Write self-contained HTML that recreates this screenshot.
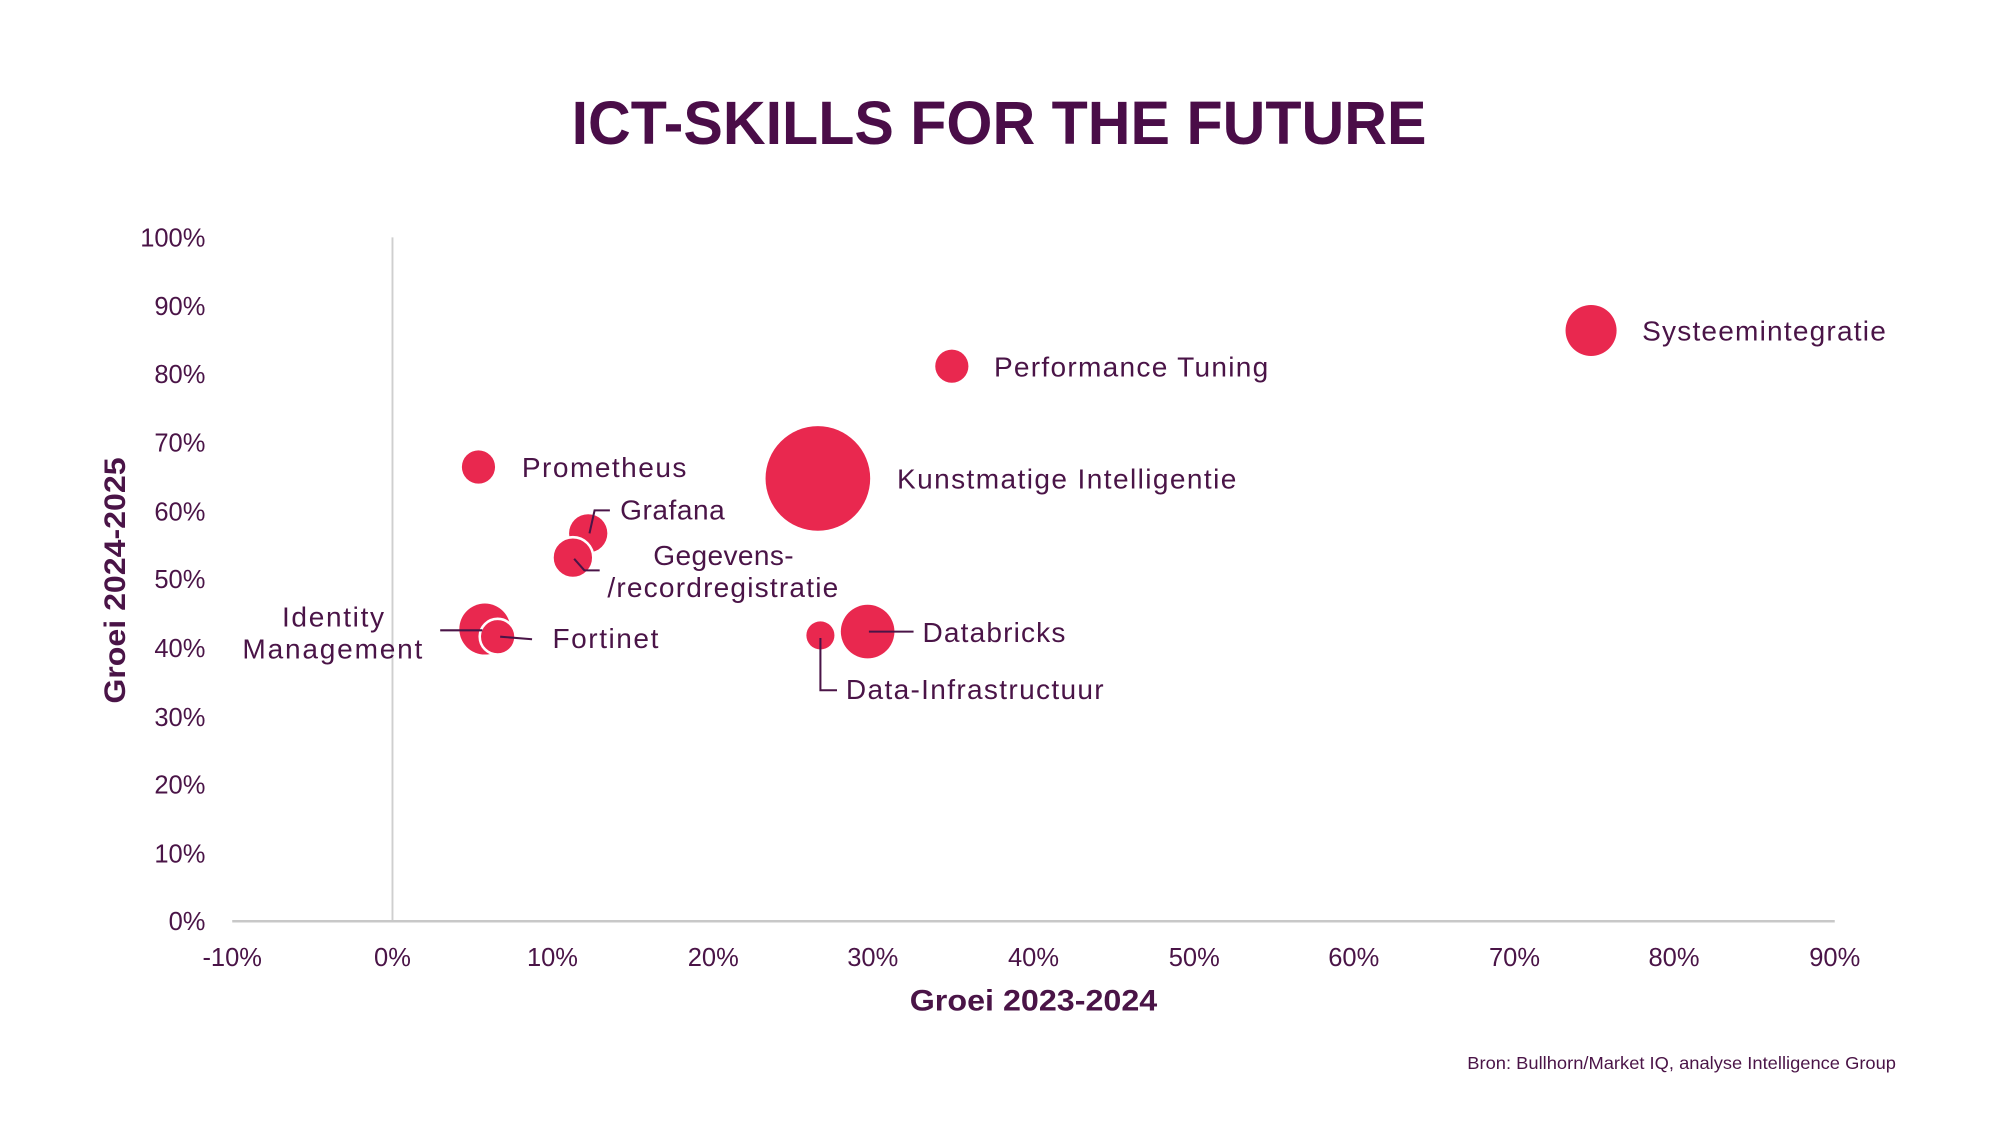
<!DOCTYPE html>
<html><head><meta charset="utf-8"><style>
html,body{margin:0;padding:0;background:#fff;}
svg{display:block;}
text{font-family:"Liberation Sans",sans-serif;fill:#4a1447;}
</style></head><body>
<svg width="2000" height="1125" viewBox="0 0 1567.5 881.7" xmlns="http://www.w3.org/2000/svg">
<rect width="1567.5" height="881.7" fill="#fff"/>
<text x="783" y="113" text-anchor="middle" font-size="48" font-weight="bold" textLength="670" lengthAdjust="spacingAndGlyphs" style="fill:#4a0d48">ICT-SKILLS FOR THE FUTURE</text>
<line x1="307.6" y1="186" x2="307.6" y2="722" stroke="#cfcfcf" stroke-width="1.5"/>
<line x1="182" y1="722" x2="1438" y2="722" stroke="#c8c8c8" stroke-width="2"/>
<g font-size="20" text-anchor="end">
<text x="161" y="193">100%</text><text x="161" y="247">90%</text><text x="161" y="300">80%</text>
<text x="161" y="354">70%</text><text x="161" y="408">60%</text><text x="161" y="461">50%</text>
<text x="161" y="515">40%</text><text x="161" y="569">30%</text><text x="161" y="622">20%</text>
<text x="161" y="676">10%</text><text x="161" y="729">0%</text>
</g>
<g font-size="20" text-anchor="middle">
<text x="182" y="757">-10%</text><text x="307.6" y="757">0%</text><text x="433" y="757">10%</text>
<text x="559" y="757">20%</text><text x="684" y="757">30%</text><text x="810" y="757">40%</text>
<text x="936" y="757">50%</text><text x="1061" y="757">60%</text><text x="1187" y="757">70%</text>
<text x="1312" y="757">80%</text><text x="1438" y="757">90%</text>
</g>
<text x="810" y="792" text-anchor="middle" font-size="23" font-weight="bold" textLength="194" lengthAdjust="spacingAndGlyphs">Groei 2023-2024</text>
<text transform="translate(98,455) rotate(-90)" text-anchor="middle" font-size="23" font-weight="bold" textLength="193" lengthAdjust="spacingAndGlyphs">Groei 2024-2025</text>
<text x="1486" y="838" text-anchor="end" font-size="13.5" textLength="336" lengthAdjust="spacingAndGlyphs">Bron: Bullhorn/Market IQ, analyse Intelligence Group</text>
<g fill="#e9284f">
<circle cx="1247" cy="259" r="20"/>
<circle cx="746" cy="287" r="13"/>
<circle cx="641" cy="375" r="41"/>
<circle cx="375" cy="366" r="13"/>
<circle cx="461" cy="418" r="15"/>
<circle cx="449" cy="437" r="16" stroke="#fff" stroke-width="2"/>
<circle cx="380" cy="493" r="20"/>
<circle cx="390" cy="499" r="14" stroke="#fff" stroke-width="2"/>
<circle cx="643" cy="498" r="11"/>
<circle cx="680" cy="495" r="21"/>
</g>
<g stroke="#4a1447" stroke-width="1.6" fill="none">
<polyline points="462,418 466,400 478,400"/>
<polyline points="450,438 458,447 470,447"/>
<polyline points="345,494 378,494"/>
<polyline points="392,499 417,501"/>
<polyline points="643,500 643,541 656,541"/>
<polyline points="681,495 716,495"/>
</g>
<g font-size="22" lengthAdjust="spacingAndGlyphs">
<text x="1287" y="267" textLength="191">Systeemintegratie</text>
<text x="779" y="295" textLength="215">Performance Tuning</text>
<text x="703" y="383" textLength="266">Kunstmatige Intelligentie</text>
<text x="409" y="374" textLength="129">Prometheus</text>
<text x="486" y="407" textLength="82">Grafana</text>
<text x="512" y="443" textLength="110">Gegevens-</text>
<text x="476" y="468" textLength="181">/recordregistratie</text>
<text x="221" y="491" textLength="80">Identity</text>
<text x="190" y="516" textLength="141">Management</text>
<text x="433" y="508" textLength="83">Fortinet</text>
<text x="663" y="548" textLength="202">Data-Infrastructuur</text>
<text x="723" y="503" textLength="112">Databricks</text>
</g>
</svg>
</body></html>
